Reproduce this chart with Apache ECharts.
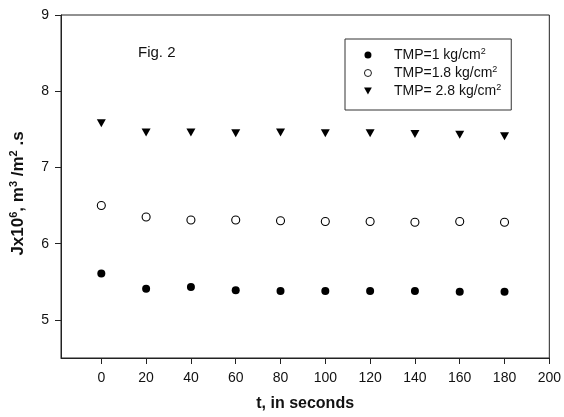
<!DOCTYPE html>
<html>
<head>
<meta charset="utf-8">
<script src="https://cdn.jsdelivr.net/npm/echarts@6/dist/echarts.min.js"></script>
<style>
  html, body { margin: 0; padding: 0; background: #fff; }
  #chart { width: 564px; height: 417px; }
</style>
</head>
<body>
<div id="chart"></div>
<script>
const times = [0, 20, 40, 60, 80, 100, 120, 140, 160, 180];
const tmp1 = [5.61, 5.41, 5.43, 5.39, 5.38, 5.38, 5.38, 5.38, 5.37, 5.37];
const tmp18 = [6.50, 6.35, 6.31, 6.31, 6.30, 6.29, 6.29, 6.28, 6.29, 6.28];
const tmp28 = [7.58, 7.46, 7.46, 7.45, 7.46, 7.45, 7.45, 7.44, 7.43, 7.41];
const xTicks = [0, 20, 40, 60, 80, 100, 120, 140, 160, 180, 200];
const yTicks = [5, 6, 7, 8, 9];
const seriesNames = ["TMP=1 kg/cm", "TMP=1.8 kg/cm", "TMP= 2.8 kg/cm"];

const font = "'Liberation Sans', Arial, sans-serif";
const downTriangle = "path://M0,0 L10,0 L5,9 Z";

function pairs(vals) {
  return vals.map((v, i) => [times[i], v]);
}

const chart = echarts.init(document.getElementById("chart"));
chart.setOption({
  animation: false,
  textStyle: { fontFamily: font },
  grid: {
    left: 61, right: 10, top: 15, bottom: 55,
    show: true, borderColor: "#222", borderWidth: 1
  },
  legend: {
    orient: "vertical",
    left: 345, top: 39,
    padding: [8, 10, 12, 19],
    itemGap: 3,
    itemWidth: 8, itemHeight: 7,
    itemStyle: { borderWidth: 0.9 },
    borderColor: "#333", borderWidth: 1,
    backgroundColor: "#fff",
    data: seriesNames,
    formatter: name => `{g|}{t|${name}}{s|2}`,
    textStyle: {
      fontFamily: font,
      color: "#111",
      rich: {
        g: { width: 17 },
        t: { fontSize: 14, lineHeight: 16, fontFamily: font, color: "#111" },
        s: { fontSize: 9, lineHeight: 10, verticalAlign: "top", fontFamily: font, color: "#111" }
      }
    }
  },
  graphic: [{
    type: "text", left: 138, top: 45,
    style: { text: "Fig. 2", font: "15px " + font, fill: "#111" }
  }],
  xAxis: {
    type: "value", min: -18, max: 200,
    splitLine: { show: false },
    axisLine: { onZero: false, lineStyle: { color: "#222" } },
    axisTick: { length: 6, lineStyle: { color: "#222" }, customValues: xTicks },
    axisLabel: { fontSize: 14, color: "#111", margin: 13, customValues: xTicks },
    name: "t, in seconds",
    nameLocation: "middle",
    nameGap: 38,
    nameTextStyle: { fontSize: 16, fontWeight: "bold", color: "#111" }
  },
  yAxis: {
    type: "value", min: 4.5, max: 9,
    splitLine: { show: false },
    axisLine: { onZero: false, lineStyle: { color: "#222" } },
    axisTick: { length: 6, lineStyle: { color: "#222" }, customValues: yTicks },
    axisLabel: { fontSize: 14, color: "#111", margin: 12, customValues: yTicks },
    name: "{b|Jx10}{s|6}{b|, m}{s|3}{b| /m}{s|2}{b| .s}",
    nameLocation: "middle",
    nameRotate: 90,
    nameGap: 33,
    nameTextStyle: {
      padding: [0, 14, 0, 0],
      rich: {
        b: { fontSize: 17, fontWeight: "bold", lineHeight: 20, color: "#111", fontFamily: font },
        s: { fontSize: 11, fontWeight: "bold", lineHeight: 12, verticalAlign: "top", color: "#111", fontFamily: font }
      }
    }
  },
  series: [
    {
      name: seriesNames[0], type: "scatter", data: pairs(tmp1),
      symbol: "circle", symbolSize: 8,
      itemStyle: { color: "#000", opacity: 1 }
    },
    {
      name: seriesNames[1], type: "scatter", data: pairs(tmp18),
      symbol: "circle", symbolSize: 8,
      itemStyle: { color: "#fff", borderColor: "#000", borderWidth: 1.1, opacity: 1 }
    },
    {
      name: seriesNames[2], type: "scatter", data: pairs(tmp28),
      symbol: downTriangle, symbolSize: [9, 8],
      itemStyle: { color: "#000", opacity: 1 }
    }
  ]
});
</script>
</body>
</html>
